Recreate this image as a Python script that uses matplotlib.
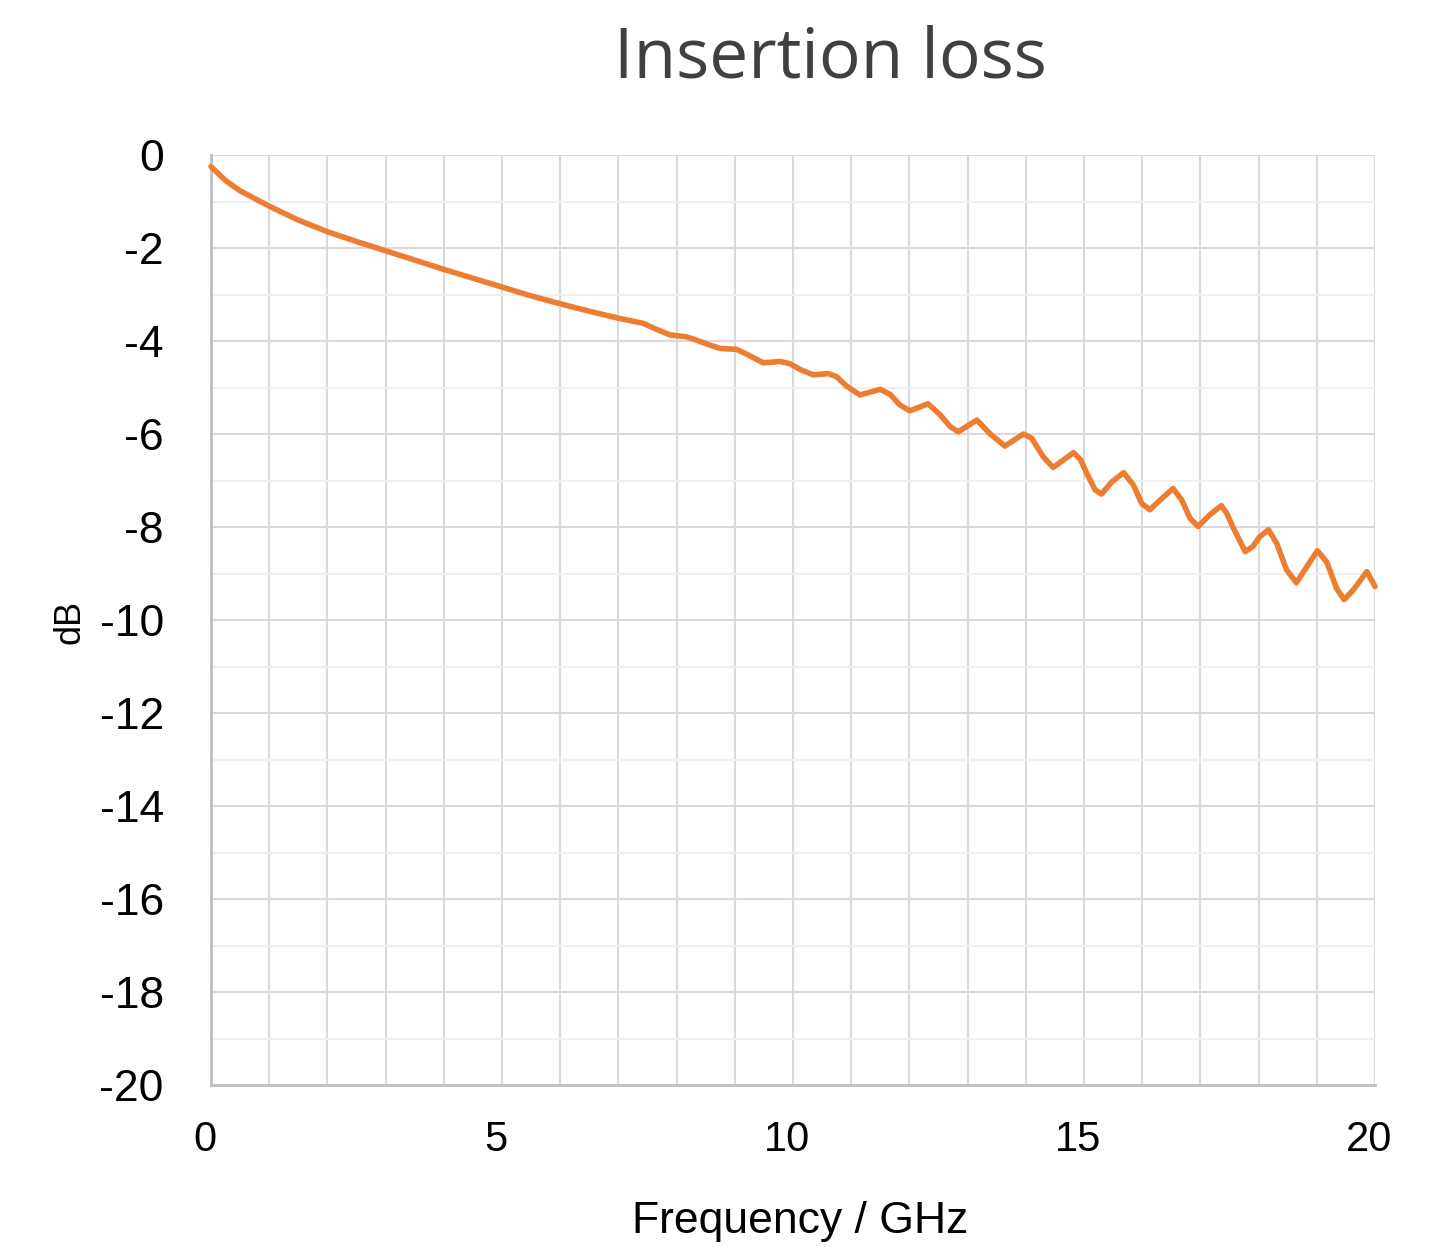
import matplotlib
matplotlib.use("Agg")
import matplotlib.pyplot as plt
import matplotlib.transforms as mtransforms
from matplotlib.ticker import MultipleLocator

# Data
freq_ghz = [0, 0.25, 0.5, 1.0, 1.5, 2.0, 2.5, 3.0, 3.5, 4.0, 4.5, 5.0, 5.5, 6.0, 6.5,
            7.0, 7.43, 7.6, 7.89, 8.17, 8.34, 8.55, 8.75, 9.03, 9.20, 9.49, 9.78, 9.95,
            10.12, 10.35, 10.61, 10.75, 10.92, 11.15, 11.50, 11.67, 11.84, 12.01, 12.32,
            12.53, 12.70, 12.84, 13.16, 13.38, 13.64, 13.96, 14.10, 14.30, 14.47, 14.82,
            14.94, 15.05, 15.19, 15.30, 15.48, 15.68, 15.85, 15.99, 16.13, 16.31, 16.53,
            16.68, 16.82, 16.96, 17.16, 17.36, 17.45, 17.57, 17.77, 17.90, 18.02, 18.17,
            18.31, 18.48, 18.65, 18.83, 19.01, 19.17, 19.34, 19.47, 19.63, 19.86, 20.0]
loss_db = [-0.25, -0.55, -0.77, -1.10, -1.40, -1.65, -1.86, -2.06, -2.26, -2.46, -2.65,
           -2.84, -3.03, -3.20, -3.36, -3.51, -3.62, -3.72, -3.87, -3.91, -3.98, -4.08,
           -4.16, -4.18, -4.28, -4.47, -4.44, -4.49, -4.61, -4.73, -4.70, -4.77, -4.97,
           -5.16, -5.04, -5.15, -5.38, -5.50, -5.35, -5.59, -5.84, -5.95, -5.70, -5.99,
           -6.26, -6.00, -6.09, -6.49, -6.72, -6.40, -6.55, -6.85, -7.20, -7.29, -7.03,
           -6.83, -7.10, -7.49, -7.63, -7.42, -7.17, -7.42, -7.81, -7.99, -7.74, -7.54,
           -7.70, -8.03, -8.53, -8.42, -8.21, -8.06, -8.35, -8.92, -9.20, -8.85, -8.51,
           -8.75, -9.32, -9.56, -9.35, -8.96, -9.28]

x_ticks = [0, 5, 10, 15, 20]
y_ticks = [0, -2, -4, -6, -8, -10, -12, -14, -16, -18, -20]

title = "Insertion loss"
x_label = "Frequency / GHz"
y_label = "dB"

W, H = 1435, 1247
fig = plt.figure(figsize=(W / 100, H / 100), dpi=100)
ax = fig.add_axes([211 / W, 1 - 1085 / H, (1375 - 211) / W, (1085 - 155) / H])

ax.plot(freq_ghz, loss_db, color="#ED7D31", lw=4.0, solid_joinstyle="round",
        solid_capstyle="round", zorder=3, clip_on=False)

ax.set_xlim(0, 20)
ax.set_ylim(-20, 0)
ax.set_xticks(x_ticks)
ax.set_yticks(y_ticks)
ax.set_yticklabels([str(v) for v in y_ticks])
ax.xaxis.set_minor_locator(MultipleLocator(1))
ax.yaxis.set_minor_locator(MultipleLocator(1))

ax.grid(True, which="major", axis="y", color="#d9d9d9", lw=1.5, zorder=0)
ax.grid(True, which="minor", axis="y", color="#f0f0f0", lw=1.5, zorder=0)
ax.grid(True, which="both", axis="x", color="#d9d9d9", lw=1.5, zorder=0)
ax.set_axisbelow(True)

for s in ["top", "right"]:
    ax.spines[s].set_visible(False)
for s in ["left", "bottom"]:
    ax.spines[s].set_color("#bfbfbf")
    ax.spines[s].set_linewidth(2)

ax.tick_params(which="both", length=0)
ax.tick_params(axis="y", labelsize=32, pad=34)
ax.tick_params(axis="x", labelsize=30, pad=25)
for lab in ax.get_yticklabels() + ax.get_xticklabels():
    lab.set_family(["Liberation Sans", "DejaVu Sans"])
    lab.set_color("black")
off = mtransforms.ScaledTranslation(-6 / 100, 0, fig.dpi_scale_trans)
for lab in ax.get_xticklabels():
    lab.set_transform(lab.get_transform() + off)

fig.text(830 / W, 1 - 60 / H, title, ha="center", va="center", fontsize=50,
         color="#404040", family=["Open Sans", "DejaVu Sans"])
fig.text(800 / W, 1 - 1222 / H, x_label, ha="center", va="center", fontsize=32,
         color="black", family=["Liberation Sans", "DejaVu Sans"])
fig.text(70 / W, 1 - 622 / H, y_label, ha="center", va="center", fontsize=26,
         rotation=90, color="black", family=["Liberation Sans", "DejaVu Sans"])

fig.savefig("out.png", dpi=100, facecolor="white")
